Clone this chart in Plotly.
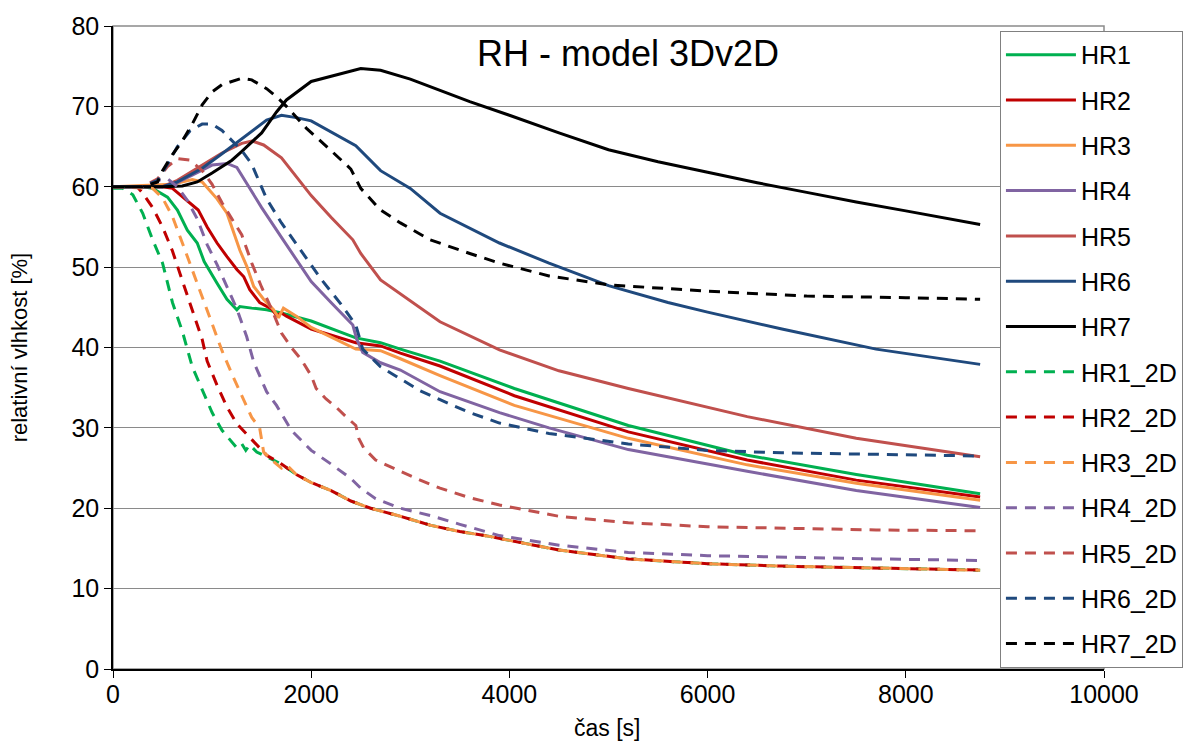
import plotly.graph_objects as go

# ---------------- data (time in s, relative humidity in %) ----------------
series_names = ["HR1", "HR2", "HR3", "HR4", "HR5", "HR6", "HR7",
                "HR1_2D", "HR2_2D", "HR3_2D", "HR4_2D", "HR5_2D", "HR6_2D", "HR7_2D"]

t_hr1 = [0, 300, 400, 550, 650, 750, 850, 920, 1050, 1150, 1250, 1280, 1400, 1550, 1700, 2000,
         2450, 2700, 2900, 3300, 4050, 5200, 6400, 7500, 8750]
hr1 = [60, 60, 59.8, 58.7, 57.1, 54.6, 53.0, 50.7, 48.0, 46.0, 44.7, 45.1, 44.9, 44.7, 44.3, 43.3,
       41.2, 40.6, 39.8, 38.3, 34.9, 30.3, 26.6, 24.2, 21.8]

t_hr2 = [0, 500, 600, 750, 860, 950, 1050, 1150, 1250, 1320, 1380, 1480, 1600, 1650, 1700, 1750,
         2000, 2450, 2700, 2900, 3300, 4050, 5200, 6400, 7500, 8750]
hr2 = [60, 60, 59.8, 58.3, 57.1, 55.0, 53.0, 51.3, 49.7, 48.8, 47.2, 45.6, 44.8, 44.0, 44.3, 43.9,
       42.3, 40.6, 40.2, 39.3, 37.7, 34.0, 29.5, 26.0, 23.5, 21.4]

t_hr3 = [0, 600, 800, 900, 1050, 1150, 1210, 1280, 1350, 1420, 1520, 1620, 1670, 1720, 1850, 2000,
         2450, 2700, 2900, 3300, 4050, 5200, 6400, 7500, 8750]
hr3 = [60, 60.3, 60.9, 60.6, 58.5, 56.7, 54.6, 52.1, 50.1, 47.6, 46.0, 44.7, 43.7, 44.9, 43.9, 42.5,
       39.8, 39.6, 38.6, 36.5, 32.8, 28.7, 25.4, 23.1, 21.0]

t_hr4 = [0, 500, 600, 800, 1000, 1150, 1250, 1350, 1500, 1700, 2000, 2200, 2420, 2460, 2520, 2700,
         2900, 3300, 3900, 4400, 5200, 6400, 7500, 8750]
hr4 = [60, 60, 60.2, 61.5, 62.7, 62.9, 62.4, 60.4, 57.4, 53.7, 48.2, 45.6, 42.8, 41.0, 39.4, 38.1,
       37.2, 34.5, 31.9, 30.0, 27.3, 24.6, 22.2, 20.1]

t_hr5 = [0, 500, 650, 900, 1100, 1300, 1400, 1520, 1700, 2000, 2200, 2420, 2500, 2700, 2900, 3300,
         3900, 4500, 5200, 6400, 7500, 8750]
hr5 = [60, 60, 60.8, 62.7, 64.2, 65.4, 65.7, 65.2, 63.6, 58.9, 56.2, 53.4, 51.7, 48.4, 46.7, 43.2,
       39.7, 37.1, 34.9, 31.4, 28.7, 26.4]

t_hr6 = [0, 500, 650, 900, 1100, 1250, 1400, 1550, 1700, 1850, 2000, 2450, 2700, 3000, 3300, 3900,
         4400, 5000, 5600, 6000, 6750, 7700, 8750]
hr6 = [60, 60, 60.6, 62.3, 64.1, 65.5, 66.9, 68.3, 68.9, 68.6, 68.2, 65.1, 62.0, 59.8, 56.7, 53.0,
       50.5, 47.7, 45.6, 44.4, 42.3, 39.8, 37.9]

t_hr7 = [0, 500, 700, 850, 1000, 1200, 1300, 1500, 1650, 1750, 2000, 2500, 2700, 3000, 3300, 3600,
         4000, 4500, 5000, 5500, 6000, 6500, 7000, 7500, 8000, 8500, 8750]
hr7 = [60, 60, 60.1, 60.6, 61.7, 63.3, 64.4, 66.7, 69.3, 70.8, 73.1, 74.7, 74.5, 73.4, 72.0, 70.6,
       68.9, 66.7, 64.6, 63.1, 61.8, 60.5, 59.3, 58.1, 57.0, 55.9, 55.3]

t_hr1_2d = [0, 100, 200, 300, 400, 500, 600, 700, 800, 900, 1000, 1100, 1200, 1250, 1300, 1340,
            1380, 1450, 1550, 1700, 1850, 2000, 2200, 2400, 2600, 2900, 3200, 3500, 3800, 4000,
            4500, 5200, 6000, 6750, 7700, 8750]
hr1_2d = [59.8, 59.8, 59.0, 56.7, 53.4, 50.5, 45.6, 42.0, 37.6, 34.7, 31.9, 29.7, 28.3, 27.5, 28.0,
          27.2, 27.9, 27.0, 26.4, 25.5, 24.2, 23.2, 22.2, 20.9, 20.0, 19.0, 17.9, 17.1, 16.5, 16.0,
          14.8, 13.7, 13.1, 12.8, 12.6, 12.3]

t_hr2_2d = [0, 250, 300, 400, 500, 600, 700, 800, 900, 950, 1050, 1150, 1250, 1350, 1450, 1550,
            1700, 1850, 2000, 2200, 2400, 2600, 2900, 3200, 3500, 3800, 4000, 4500, 5200, 6000,
            6750, 7700, 8750]
hr2_2d = [60, 59.9, 59.2, 57.4, 55.0, 52.0, 48.3, 44.6, 41.0, 38.3, 35.3, 32.6, 30.5, 29.2, 27.9,
          26.6, 25.5, 24.2, 23.2, 22.2, 20.9, 20.0, 19.0, 17.9, 17.1, 16.5, 16.0, 14.8, 13.7, 13.1,
          12.8, 12.6, 12.3]

t_hr3_2d = [0, 400, 500, 600, 700, 800, 900, 1000, 1100, 1200, 1300, 1400, 1480, 1520, 1620, 1700,
            1750, 1850, 2000, 2200, 2400, 2600, 2900, 3200, 3500, 3800, 4000, 4500, 5200, 6000,
            6750, 7700, 8750]
hr3_2d = [60, 59.8, 58.6, 56.3, 53.0, 49.7, 46.3, 43.0, 39.6, 36.7, 34.0, 31.3, 30.0, 27.0, 25.8,
          25.0, 25.4, 24.2, 23.2, 22.2, 20.9, 20.0, 19.0, 17.9, 17.1, 16.5, 16.0, 14.8, 13.7, 13.1,
          12.8, 12.6, 12.3]

t_hr4_2d = [0, 300, 450, 550, 650, 750, 850, 950, 1050, 1150, 1250, 1350, 1420, 1550, 1650, 1800,
            2000, 2200, 2400, 2500, 2650, 2900, 3200, 3500, 3900, 4500, 5200, 6000, 6750, 7700, 8750]
hr4_2d = [60, 60, 60.8, 61.0, 60.0, 58.3, 56.0, 52.8, 50.3, 47.5, 44.8, 41.3, 38.2, 34.5, 32.8,
          29.7, 27.2, 25.5, 23.7, 22.5, 21.2, 20.0, 19.1, 18.0, 16.6, 15.4, 14.5, 14.1, 13.9, 13.7, 13.5]

t_hr5_2d = [0, 300, 450, 550, 650, 780, 900, 1000, 1100, 1200, 1300, 1400, 1500, 1600, 1700, 1800,
            1900, 2000, 2050, 2150, 2250, 2350, 2450, 2480, 2530, 2650, 2750, 2900, 3100, 3300,
            3600, 3900, 4500, 5200, 6000, 6750, 7700, 8750]
hr5_2d = [60, 60, 61, 62.5, 63.5, 63.3, 62.0, 60.3, 58.0, 56.0, 54.0, 50.5, 47.5, 44.8, 41.8, 40.0,
          38.5, 36.5, 34.9, 33.6, 32.6, 31.4, 30.3, 28.7, 27.5, 26.0, 25.4, 24.6, 23.5, 22.5,
          21.3, 20.4, 19.0, 18.2, 17.7, 17.5, 17.3, 17.2]

t_hr6_2d = [0, 300, 450, 550, 650, 780, 900, 1000, 1100, 1200, 1300, 1400, 1500, 1550, 1700, 1900,
            2100, 2300, 2450, 2520, 2700, 2900, 3100, 3300, 3600, 3900, 4400, 5200, 6000, 6750,
            7700, 8750]
hr6_2d = [60, 60, 60.8, 62.8, 65.0, 67.0, 67.8, 67.8, 67.0, 65.8, 64.5, 62.8, 60.0, 58.5, 55.5,
          52.0, 48.5, 45.4, 42.8, 39.8, 37.6, 36.1, 34.6, 33.5, 31.9, 30.6, 29.3, 28.0, 27.2, 26.9,
          26.7, 26.5]

t_hr7_2d = [0, 300, 450, 500, 600, 700, 800, 900, 1000, 1100, 1300, 1400, 1550, 1650, 1750, 1950,
            2200, 2400, 2500, 2700, 2900, 3200, 3600, 3900, 4400, 5000, 6000, 7000, 8000, 8750]
hr7_2d = [60, 60, 60.6, 62.0, 64.0, 65.7, 67.8, 70.2, 71.8, 72.7, 73.5, 73.3, 72.2, 71.2, 70.0,
          67.3, 64.5, 62.2, 59.8, 57.1, 55.5, 53.4, 51.7, 50.5, 48.9, 47.8, 47.0, 46.4, 46.2, 46.0]

series_t = [t_hr1, t_hr2, t_hr3, t_hr4, t_hr5, t_hr6, t_hr7,
            t_hr1_2d, t_hr2_2d, t_hr3_2d, t_hr4_2d, t_hr5_2d, t_hr6_2d, t_hr7_2d]
series_y = [hr1, hr2, hr3, hr4, hr5, hr6, hr7,
            hr1_2d, hr2_2d, hr3_2d, hr4_2d, hr5_2d, hr6_2d, hr7_2d]

x_ticks = [0, 2000, 4000, 6000, 8000, 10000]
x_tick_labels = ["0", "2000", "4000", "6000", "8000", "10000"]
y_ticks = [0, 10, 20, 30, 40, 50, 60, 70, 80]

# ---------------- styling ----------------
colors = ["#00B050", "#C00000", "#F79646", "#8064A2", "#C0504D", "#1F497D", "#000000"]
FONT = "Liberation Sans, Arial, sans-serif"

fig = go.Figure()
for i, (name, tx, ty) in enumerate(zip(series_names, series_t, series_y)):
    dashed = name.endswith("_2D")
    fig.add_trace(go.Scatter(
        x=tx, y=ty, mode="lines", name=name, legendgroup=name,
        line=dict(color=colors[i % 7], width=3, dash="11px,8px" if dashed else "solid"),
    ))

fig.update_layout(
    width=1199, height=747,
    margin=dict(l=113, r=95, t=21, b=78, pad=0),
    paper_bgcolor="white", plot_bgcolor="white",
    font=dict(family=FONT, color="black"),
    showlegend=True,
    legend=dict(
        x=0.895, xanchor="left", y=0.9923, yanchor="top",
        bgcolor="white", bordercolor="#808080", borderwidth=1,
        font=dict(size=25, family=FONT), tracegroupgap=9.8,
        itemwidth=70,
    ),
    xaxis=dict(
        range=[0, 10000], tickvals=x_ticks, ticktext=x_tick_labels,
        ticks="outside", ticklen=7, tickcolor="black", ticklabelstandoff=-5,
        showgrid=False, zeroline=False, showline=True, linecolor="black", linewidth=1.5,
        tickfont=dict(size=25), fixedrange=True,
    ),
    yaxis=dict(
        range=[0, 80], tickvals=y_ticks, ticks="outside", ticklen=7, tickcolor="black",
        showgrid=True, gridcolor="#8a8a8a", gridwidth=1.3, zeroline=False,
        showline=True, linecolor="black", linewidth=1.5,
        tickfont=dict(size=25), fixedrange=True,
    ),
    shapes=[dict(type="rect", xref="paper", yref="paper", x0=0, y0=0, x1=1, y1=1,
                 line=dict(color="#8a8a8a", width=1.5), layer="below")],
    annotations=[
        dict(text="RH - model 3Dv2D", xref="paper", yref="paper", x=0.52, y=0.957,
             xanchor="center", yanchor="middle", showarrow=False, font=dict(size=36)),
        dict(text="relativní vlhkost [%]", xref="paper", yref="paper", x=-0.094, y=0.5,
             xanchor="center", yanchor="middle", textangle=-90, showarrow=False,
             font=dict(size=22)),
        dict(text="čas [s]", xref="paper", yref="paper", x=0.4985, y=-0.091,
             xanchor="center", yanchor="middle", showarrow=False, font=dict(size=23)),
    ],
)

fig.write_html("out.html")
